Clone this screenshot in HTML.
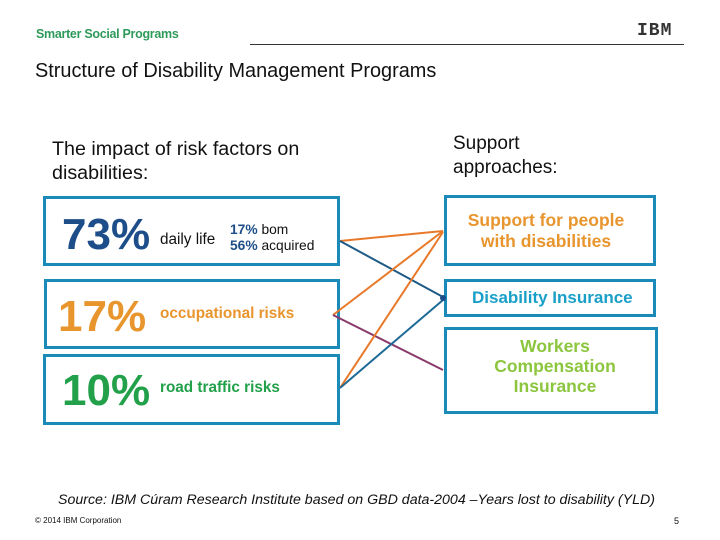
<!DOCTYPE html>
<html><head><meta charset="utf-8"><style>
body{margin:0;width:720px;height:540px;background:#fff;position:relative;overflow:hidden;font-family:"Liberation Sans",sans-serif}
.a{position:absolute;white-space:nowrap}
.box{position:absolute;border:3px solid #1a8ab8;box-sizing:border-box}
</style></head><body>
<div class="a" style="left:36px;top:27px;font-size:12.5px;font-weight:bold;color:#2e9a5a;letter-spacing:-0.3px">Smarter Social Programs</div>
<div class="a" style="left:637px;top:21px;font-size:18px;font-weight:bold;color:#333;letter-spacing:1px;font-family:'Liberation Mono',monospace">IBM</div>
<div class="a" style="left:250px;top:44px;width:434px;height:1px;background:#333"></div>
<div class="a" style="left:35px;top:60px;font-size:19.9px;color:#111">Structure of Disability Management Programs</div>
<div class="a" style="left:52px;top:137px;font-size:19.7px;color:#111;line-height:24px">The impact of risk factors on<br>disabilities:</div>
<div class="a" style="left:453px;top:132px;font-size:19px;color:#111;line-height:24px">Support<br>approaches:</div>

<div class="box" style="left:43px;top:196px;width:297px;height:70px"></div>
<div class="a" style="left:62px;top:210px;font-size:44px;color:#1d4e89;font-weight:bold">73%</div>
<div class="a" style="left:160px;top:231px;font-size:15.3px;color:#111">daily life</div>
<div class="a" style="left:230px;top:222px;font-size:13.8px;color:#111;line-height:16px"><b style="color:#1d4e89">17%</b> bom<br><b style="color:#1d4e89">56%</b> acquired</div>

<div class="box" style="left:44px;top:279px;width:296px;height:70px"></div>
<div class="a" style="left:58px;top:292px;font-size:44px;color:#e8952e;font-weight:bold">17%</div>
<div class="a" style="left:160px;top:305px;font-size:15.3px;color:#e8952e;font-weight:bold">occupational risks</div>

<div class="box" style="left:43px;top:354px;width:297px;height:71px"></div>
<div class="a" style="left:62px;top:366px;font-size:44px;color:#22a04a;font-weight:bold">10%</div>
<div class="a" style="left:160px;top:379px;font-size:15.3px;color:#22a04a;font-weight:bold">road traffic risks</div>

<div class="box" style="left:444px;top:195px;width:212px;height:71px"></div>
<div class="a" style="left:440px;top:210px;width:212px;text-align:center;font-size:17.5px;line-height:21px;color:#e8952e;font-weight:bold">Support for people<br>with disabilities</div>
<div class="box" style="left:444px;top:279px;width:212px;height:38px"></div>
<div class="a" style="left:472px;top:288px;font-size:17px;color:#1aa0c8;font-weight:bold">Disability Insurance</div>
<div class="box" style="left:444px;top:327px;width:214px;height:87px"></div>
<div class="a" style="left:444px;top:336px;width:222px;text-align:center;font-size:17.5px;line-height:20px;color:#8cc63f;font-weight:bold">Workers<br>Compensation<br>Insurance</div>

<svg class="a" style="left:0;top:0" width="720" height="540">
<g stroke-width="2" fill="none">
<line x1="340" y1="241" x2="443" y2="231" stroke="#e8792a"/>
<line x1="340" y1="241" x2="443" y2="297" stroke="#1d5a86"/>
<line x1="333" y1="315" x2="443" y2="231" stroke="#e8792a"/>
<line x1="333" y1="315" x2="443" y2="370" stroke="#8a3a6a"/>
<line x1="340" y1="388" x2="443" y2="232" stroke="#e8792a"/>
<line x1="340" y1="388" x2="443" y2="300" stroke="#1d6a96"/>
</g>
<circle cx="443" cy="298" r="3" fill="#1d4e89"/>
</svg>

<div class="a" style="left:58px;top:492px;font-size:14.2px;font-style:italic;color:#111">Source: IBM Cúram Research Institute based on GBD data-2004 –Years lost to disability (YLD)</div>
<div class="a" style="left:35px;top:516px;font-size:8px;color:#111">© 2014 IBM Corporation</div>
<div class="a" style="left:674px;top:516px;font-size:9px;color:#111">5</div>
</body></html>
